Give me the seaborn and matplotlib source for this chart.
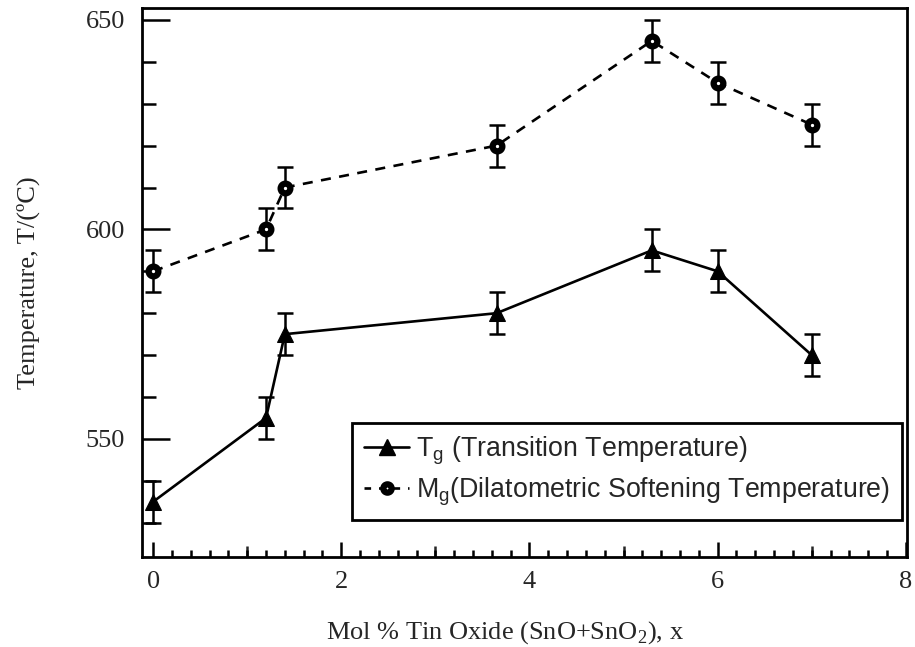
import matplotlib
matplotlib.use("Agg")
import matplotlib.pyplot as plt
import seaborn as sns
import pandas as pd
from matplotlib.lines import Line2D
from matplotlib.ticker import MultipleLocator, FixedLocator

# ---- data ----
x_mol = [0.0, 1.2, 1.4, 3.65, 5.3, 6.0, 7.0]
tg_vals = [535, 555, 575, 580, 595, 590, 570]
mg_vals = [590, 600, 610, 620, 645, 635, 625]
tg_err = [5, 5, 5, 5, 5, 5, 5]
mg_err = [5, 5, 5, 5, 5, 5, 5]
tg_label = r"T$_\mathregular{g}$ (Transition Temperature)"
mg_label = r"M$_\mathregular{g}$(Dilatometric Softening Temperature)"
x_title = r"Mol % Tin Oxide (SnO+SnO$_\mathregular{2}$), x"
y_title = "Temperature, T/(ºC)"
x_ticks = [0, 2, 4, 6, 8]
y_ticks = [550, 600, 650]

sns.set_style("ticks")
plt.rcParams["font.family"] = ["Liberation Serif", "DejaVu Serif"]
plt.rcParams["mathtext.fontset"] = "custom"
plt.rcParams["mathtext.rm"] = "Liberation Serif"

df = pd.DataFrame({"x": x_mol + x_mol,
                   "T": tg_vals + mg_vals,
                   "series": ["Tg"] * len(x_mol) + ["Mg"] * len(x_mol)})

fig = plt.figure(figsize=(9.15, 6.47), dpi=100)
ax = fig.add_axes([0.155, 0.139, 0.836, 0.849])

lw = 1.9
dash = (0, (3.8, 3.2))
sns.lineplot(data=df[df.series == "Tg"], x="x", y="T", ax=ax, color="black",
             lw=lw, marker="^", markersize=12, markerfacecolor="black",
             markeredgecolor="black", legend=False, zorder=3)
sns.lineplot(data=df[df.series == "Mg"], x="x", y="T", ax=ax, color="black",
             lw=lw, linestyle=dash, marker="o", markersize=7,
             markerfacecolor="white", markeredgecolor="black",
             markeredgewidth=4.5, legend=False, zorder=3)
ax.errorbar(x_mol, tg_vals, yerr=tg_err, fmt="none", ecolor="black",
            elinewidth=1.8, capsize=6, capthick=1.8, zorder=2)
ax.errorbar(x_mol, mg_vals, yerr=mg_err, fmt="none", ecolor="black",
            elinewidth=1.8, capsize=6, capthick=1.8, zorder=2)

ax.set_xlim(-0.12, 8.01)
ax.set_ylim(521.8, 652.9)

ax.xaxis.set_major_locator(FixedLocator(x_ticks))
ax.xaxis.set_minor_locator(MultipleLocator(0.2))
ax.yaxis.set_major_locator(FixedLocator(y_ticks))
ax.yaxis.set_minor_locator(MultipleLocator(10))
ax.tick_params(axis="both", which="both", direction="in", top=False,
               right=False, color="black", width=1.8)
ax.tick_params(axis="x", which="major", length=11, labelsize=19, pad=10)
ax.tick_params(axis="x", which="minor", length=5)
ax.tick_params(axis="y", which="major", length=20, labelsize=19, pad=12)
ax.tick_params(axis="y", which="minor", length=10)

# medium ticks at odd integers
sec = ax.secondary_xaxis("bottom")
sec.xaxis.set_major_locator(FixedLocator([1, 3, 5, 7]))
sec.tick_params(direction="in", length=8, width=1.8, labelbottom=False)
sec.spines["bottom"].set_visible(False)

for s in ax.spines.values():
    s.set_linewidth(2.0)
    s.set_color("black")

ax.set_xlabel(x_title, fontsize=19)
ax.set_ylabel(y_title, fontsize=19)
ax.xaxis.set_label_coords(0.4745, -0.113)
ax.yaxis.set_label_coords(-0.133, 0.5)

handles = [
    Line2D([], [], color="black", lw=lw, marker="^", markersize=12),
    Line2D([], [], color="black", lw=lw, linestyle=(0, (2.5, 3)), marker="o",
           markersize=6, markerfacecolor="white", markeredgewidth=4.5),
]
leg = ax.legend(handles, [tg_label, mg_label], loc="upper left",
                bbox_to_anchor=((352 - 142) / 765, (557 - 423) / 549),
                frameon=True, fancybox=False,
                framealpha=1, edgecolor="black", handlelength=1.7,
                handletextpad=0.25, borderpad=0.45, borderaxespad=0,
                labelspacing=0.3,
                prop={"family": ["Liberation Sans"], "size": 19.3})
leg.get_frame().set_linewidth(2.0)

fig.savefig("out.png", dpi=100)
